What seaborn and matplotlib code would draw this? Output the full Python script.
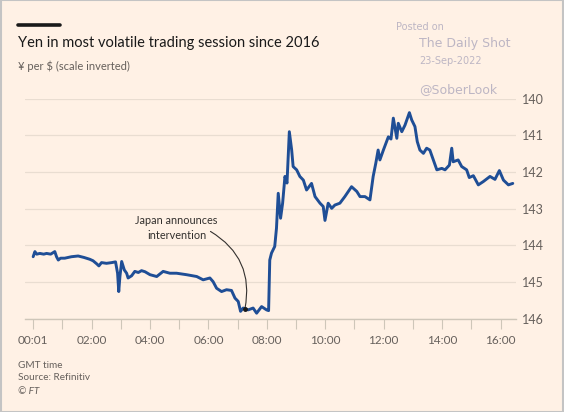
import matplotlib
matplotlib.use("Agg")
import matplotlib.pyplot as plt
import seaborn as sns
import pandas as pd
from matplotlib.patches import Rectangle
from matplotlib.lines import Line2D

# ---- data (hours GMT, yen per dollar) ----
hours = [0.00, 0.06, 0.12, 0.23, 0.36, 0.46, 0.60, 0.74, 0.80, 0.86, 0.94, 1.08,
         1.31, 1.54, 1.74, 1.94, 2.05, 2.17, 2.25, 2.34, 2.51, 2.69, 2.82, 2.89,
         2.93, 2.97, 3.03, 3.12, 3.20, 3.25, 3.37, 3.48, 3.60, 3.71, 3.83, 4.00,
         4.23, 4.45, 4.68, 4.91, 5.25, 5.60, 5.82, 6.05, 6.16, 6.28, 6.45, 6.62,
         6.79, 6.91, 7.02, 7.10, 7.19, 7.36, 7.53, 7.65, 7.82, 7.99, 8.06, 8.10,
         8.16, 8.27, 8.33, 8.39, 8.47, 8.54, 8.62, 8.69, 8.77, 8.85, 8.90, 9.02,
         9.13, 9.25, 9.36, 9.53, 9.65, 9.82, 9.93, 9.99, 10.10, 10.22, 10.33, 10.50,
         10.67, 10.90, 11.08, 11.19, 11.36, 11.53, 11.64, 11.73, 11.81, 11.87, 11.99,
         12.16, 12.25, 12.33, 12.45, 12.50, 12.62, 12.73, 12.88, 12.96, 13.07, 13.15,
         13.24, 13.36, 13.47, 13.58, 13.70, 13.82, 13.99, 14.10, 14.25, 14.33, 14.38,
         14.55, 14.67, 14.84, 14.93, 15.07, 15.24, 15.41, 15.64, 15.81, 15.96, 16.10,
         16.27, 16.42]
yen = [144.31, 144.17, 144.24, 144.22, 144.24, 144.22, 144.24, 144.17, 144.31, 144.40, 144.35, 144.35,
       144.31, 144.29, 144.33, 144.38, 144.42, 144.50, 144.56, 144.47, 144.49, 144.47, 144.45, 144.76,
       145.26, 144.85, 144.44, 144.67, 144.76, 144.89, 144.83, 144.71, 144.74, 144.69, 144.72, 144.80,
       144.85, 144.71, 144.76, 144.76, 144.80, 144.85, 144.94, 144.89, 144.99, 145.17, 145.26, 145.21,
       145.23, 145.44, 145.53, 145.80, 145.71, 145.76, 145.71, 145.85, 145.67, 145.76, 145.78, 144.40,
       144.21, 144.03, 143.53, 142.58, 143.26, 142.85, 142.12, 142.30, 140.90, 141.40, 141.85, 141.94,
       142.12, 142.22, 142.49, 142.31, 142.67, 142.85, 142.94, 143.32, 142.85, 142.99, 142.90, 142.85,
       142.67, 142.40, 142.53, 142.67, 142.67, 142.76, 142.12, 141.76, 141.40, 141.67, 141.40,
       141.04, 141.10, 140.53, 141.08, 140.67, 140.90, 140.72, 140.38, 140.58, 140.76, 141.17,
       141.40, 141.49, 141.35, 141.40, 141.67, 141.94, 141.90, 141.94, 141.81, 141.35, 141.72,
       141.67, 141.85, 141.94, 142.15, 142.10, 142.35, 142.26, 142.12, 142.20, 141.96, 142.22,
       142.35, 142.31]
tick_hours = list(range(0, 17))
tick_labels = ["00:01", "", "02:00", "", "04:00", "", "06:00", "", "08:00", "",
               "10:00", "", "12:00", "", "14:00", "", "16:00"]
y_ticks = [140, 141, 142, 143, 144, 145, 146]
annot_hour, annot_value = 7.25, 145.73

BG = "#FFF1E5"
GREY = "#66605C"
df = pd.DataFrame({"hour": hours, "yen": yen})

sns.set_theme(style="white")
plt.rcParams["font.family"] = ["Lato", "DejaVu Sans"]

fig = plt.figure(figsize=(5.64, 4.12), dpi=100, facecolor=BG)
ax = fig.add_axes([0.0443, 0.2265, 0.8706, 0.5339])
ax.set_facecolor(BG)

sns.lineplot(data=df, x="hour", y="yen", ax=ax, color="#1F4E96", linewidth=2.1)

ax.set_xlim(-0.28, 16.53)
ax.set_ylim(146, 140)
ax.set_yticks(y_ticks)
ax.set_yticklabels([str(v) for v in y_ticks])
ax.yaxis.tick_right()
ax.tick_params(axis="y", length=0, pad=4, labelsize=9, labelcolor=GREY)
ax.set_xticks(tick_hours)
ax.set_xticklabels(tick_labels)
ax.tick_params(axis="x", length=7, width=0.8, color="#CEC6B9", pad=5,
               labelsize=8.5, labelcolor=GREY, bottom=True)
ax.grid(axis="y", color="#E9DDD1", linewidth=0.9)
ax.grid(axis="x", visible=False)
for s in ["top", "left", "right"]:
    ax.spines[s].set_visible(False)
ax.spines["bottom"].set_color("#CEC6B9")
ax.spines["bottom"].set_linewidth(1.0)
ax.set_xlabel("")
ax.set_ylabel("")

# annotation
ax.text(4.91, 143.52, "Japan announces\nintervention", ha="center", va="center",
        fontsize=7.8, color="#33302E", linespacing=1.5)
ax.annotate("", xy=(annot_hour, annot_value), xytext=(6.07, 143.62),
            arrowprops=dict(arrowstyle="-", color="#33302E", lw=0.8,
                            connectionstyle="arc3,rad=-0.35",
                            shrinkA=0, shrinkB=0))
ax.plot([annot_hour], [annot_value], "o", color="#1A1A1A", markersize=2.5, zorder=5)

# header
fig.add_artist(Line2D([18 / 564, 60 / 564], [1 - 24.5 / 412] * 2, color="#1A1A1A", lw=2.6))
fig.text(18 / 564, 1 - 43 / 412, "Yen in most volatile trading session since 2016",
         fontsize=10.5, color="#1A1A1A", va="center", ha="left")
fig.text(18 / 564, 1 - 66 / 412, "¥ per $ (scale inverted)", fontsize=8,
         color=GREY, va="center", ha="left")

# watermark
WM = "#BDB6C4"
fig.text(396 / 564, 1 - 27 / 412, "Posted on", fontsize=7, color=WM, va="center",
         family=["DejaVu Sans"])
fig.text(419 / 564, 1 - 43 / 412, "The Daily Shot", fontsize=9, color=WM, va="center",
         family=["DejaVu Sans"])
fig.text(419 / 564, 1 - 61 / 412, "23-Sep-2022", fontsize=7, color=WM, va="center",
         family=["DejaVu Sans"])
fig.text(419 / 564, 1 - 90 / 412, "@SoberLook", fontsize=9, color=WM, va="center",
         family=["DejaVu Sans"])

# footer
fig.text(18 / 564, 1 - 365 / 412, "GMT time", fontsize=7.2, color=GREY, va="center")
fig.text(18 / 564, 1 - 378 / 412, "Source: Refinitiv", fontsize=7.2, color=GREY, va="center")
fig.text(18 / 564, 1 - 391 / 412, "© FT", fontsize=7.2, color=GREY, va="center", style="italic")

fig.add_artist(Rectangle((0.001, 0.001), 0.998, 0.998, transform=fig.transFigure,
                         fill=False, edgecolor="#C4C4C4", lw=1.5))

fig.savefig("out.png", dpi=100, facecolor=BG)
